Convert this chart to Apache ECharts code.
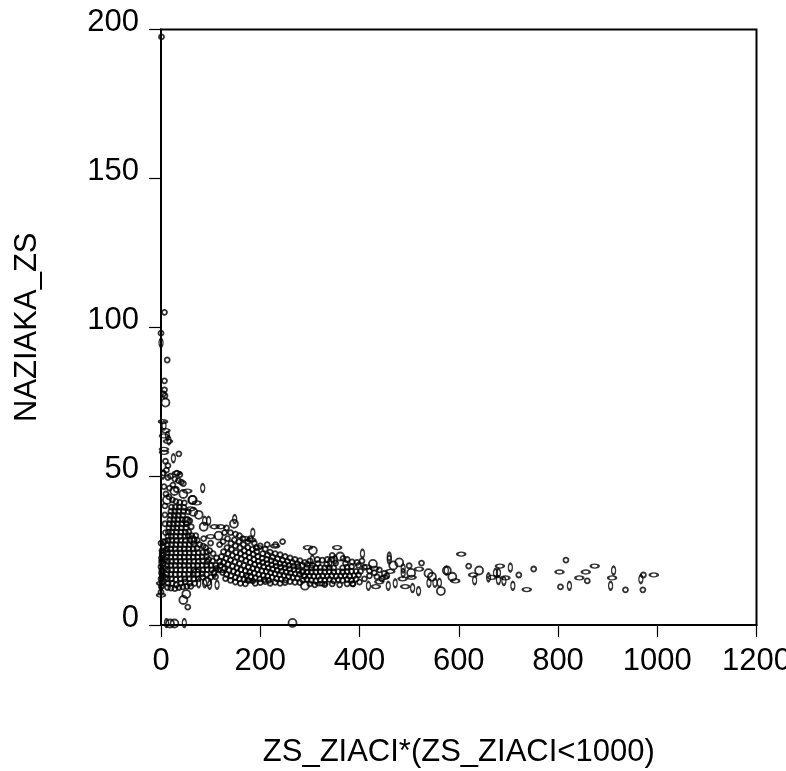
<!DOCTYPE html>
<html>
<head>
<meta charset="utf-8">
<style>html,body{margin:0;padding:0;background:#fff}</style>
<script src="https://cdn.jsdelivr.net/npm/echarts@6/dist/echarts.min.js"></script>
</head>
<body>
<div id="first" style="width:786px;height:771px;"></div>
<script>
var xTicks = [0, 200, 400, 600, 800, 1000, 1200];
var yTicks = [0, 50, 100, 150, 200];

// small round marks: [ZS_ZIACI, NAZIAKA_ZS]
var dotPoints = [
[1,197.5],[7,105],[0,98],[12.5,89],[7,82],[7,79],[5,77.6],[8,77],[36,57.5],[9,55],[14,53.5],[11,52],[5,51],[19,50],[32,51],[38,50.5],[14,49.5],[28,49],[35,48.5],[41,48],[45,47.5],[24,47],[6,46.5],[17,46],[31,45.5],[54,6],
[132,32.6],[86,29],[245,28],[231,27],[214,27],[386,13.8],[387,13.8],[500,19.9],[525,20.8],[620,19.8],[721,16.8],[751,18.8],[816,21.8],[859,14.8],[805,12.8],[936,11.8],[971,11.8],[972,16.8],
[0,11],[1,13],[2,14.5],[0,15.5],[3,16.5],[1,17.5],[2,18.5],[0,19.5],[4,20.5],[2,21.5],[1,22.5],[3,23.5],[2,25],[5,26],[0,27.5],[4,28],
[14,14],[22,14],[31,13.5],[40,14],[49,14.5],[58,14],[68,14],[13,15.5],[21,15.5],[30,15.3],[39,15.5],[48,15.5],[57,15.6],[66,15.5],[75,15.5],[84,16],
[12,17],[20,17],[29,17],[38,17],[47,17],[56,17],[65,17],[74,17],[83,17.2],[92,17],[13,18.5],[21,18.5],[30,18.5],[39,18.5],[48,18.5],[57,18.5],[66,18.5],[75,18.5],[84,18.5],[93,18.6],[102,18.5],
[12,20],[20,20],[29,20],[38,20],[47,20],[56,20],[65,20],[74,20],[83,20],[92,20],[101,20],[13,21.4],[21,21.4],[30,21.4],[39,21.4],[48,21.4],[57,21.4],[66,21.4],[75,21.4],[84,21.5],[93,21.3],
[12,22.8],[20,22.8],[29,22.8],[38,22.8],[47,22.8],[56,22.8],[65,22.8],[74,22.8],[83,22.9],[92,23],[13,24.2],[21,24.2],[30,24.2],[39,24.2],[48,24.2],[57,24.2],[66,24.2],[75,24.3],[84,24.4],
[12,25.6],[20,25.6],[29,25.6],[38,25.6],[47,25.6],[56,25.6],[65,25.6],[73,25.7],[13,27],[21,27],[30,27],[39,27],[48,27],[57,27],[66,27.2],[14,28.4],[22,28.4],[31,28.4],[40,28.4],[49,28.4],[58,28.5],[66,28.6],
[14,29.8],[21,29.8],[30,29.8],[39,29.8],[48,29.8],[55,30],[15,31.2],[22,31.2],[31,31.2],[40,31.2],[49,31.2],[56,31.3],[16,32.6],[24,32.6],[32,32.6],[41,32.6],[50,32.6],[17,34],[25,34],[33,34],[42,34],[51,34],
[18,35.4],[26,35.4],[34,35.4],[43,35.4],[52,35.3],[19,36.8],[27,36.8],[35,36.8],[44,36.8],[20,38.2],[28,38.2],[36,38.2],[45,38.2],[21,39.6],[29,39.6],[37,39.6],[46,39.5],
[116,18.5],[124,17.6],[132,17],[141,16.5],[150,16],[158,15.5],[167,15.3],[176,15],[185,14.8],[120,20],[128,19],[137,18.4],[146,18],[154,17.4],[163,17],[172,16.6],[181,16.2],[190,15.8],[199,15.5],[208,15.2],[217,15],
[118,21.4],[126,21],[135,20.4],[144,19.8],[153,19.2],[161,18.6],[170,18.2],[179,17.8],[188,17.4],[197,17],[206,16.6],[215,16.4],[224,16],[233,15.6],[242,15.4],[251,15.1],[122,23],[131,22.4],[140,21.8],[149,21.2],[158,20.6],[167,20],[176,19.4],[185,19],[194,18.6],[203,18.2],[212,18],[221,17.6],[230,17.2],[239,16.9],[248,16.6],[257,16.3],[266,16],[275,15.8],
[126,24.6],[135,24],[144,23.4],[153,22.8],[162,22.2],[171,21.6],[180,21],[189,20.4],[198,20],[207,19.6],[216,19.2],[225,18.8],[234,18.4],[243,18],[252,17.8],[261,17.4],[270,17.2],[279,17],[288,16.6],
[133,26],[142,25.4],[151,24.4],[160,24],[169,23.2],[178,22.6],[187,22],[196,21.4],[205,21],[214,20.6],[223,20.2],[232,19.8],[241,19.4],[250,19.2],[259,18.8],[268,18.6],[277,18.4],[286,18],[295,17.8],
[141,27.4],[150,26.6],[159,26],[168,25],[177,24.4],[186,23.8],[195,23],[204,22.4],[213,22],[222,21.6],[231,21],[240,20.6],[249,20.4],[258,20],[267,19.8],[276,19.6],[148,28.6],[157,28],[166,27],[175,26],[184,25.4],[193,24.6],
[286,15],[294,15.3],[303,15],[312,14.8],[321,15.2],[330,15],[339,15.3],[348,14.8],[357,15.2],[366,15],[375,15.3],[384,15],[393,15.4],[290,16.4],[299,16.5],[308,16.4],[317,16.3],[326,16.5],[335,16.4],[344,16.6],[353,16.4],[362,16.5],[371,16.6],[380,16.4],[389,16.6],[398,16.8],
[284,17.8],[303,17.8],[312,17.8],[321,17.9],[330,17.8],[339,17.9],[348,17.8],[357,17.9],[366,17.8],[375,17.9],[384,18],[393,18],[402,18],[294,19.2],[303,19.2],[312,19.2],[321,19.3],[330,19.2],[339,19.3],[348,19.2],[366,19.2],[375,19.4],[384,19.6],[398,20],[410,19.4],[316,20.6],[334,20.4],[352,20.8],[372,20.7],[367,22.4],[345,22],
[96,22],[104,21.5],[110,20],[112,22.5],[105,24],[98,25],[112,19],[106,17.5],[110,16.2],[100,16],[92,24.5],[90,26],[100,27.5],
[125,28],[134,29],[118,27],[128,31],[140,31],[150,30.5],[158,30],[165,29],[175,28],[188,27.5],[200,26.6],[210,25.5],[220,24.5],[230,24],[240,23.6],[250,23],[260,22.5],[270,22],[280,21.6],[290,21],[300,21.5],[180,29],[192,26],[205,24],[215,23.5],[225,22.8],[235,22.2],[245,21.8],[255,21.4],[265,21],[275,20.6],[285,20],[295,20.4],[305,20],[315,22],[325,21.8],[335,22],[345,23.4],[375,22],[385,21.2],[395,21],[405,21.5],
[130,15.6],[140,15],[150,14.4],[160,14],[170,13.8],[190,14],[200,14.2],[210,14.6],[220,14],[230,14.3],[240,14],[250,14.2],[260,14.6],[270,14.3],[280,14.2],[300,13.8],[310,13.5],[330,13.6],[345,13.8],[360,13.5],[375,13.8],[400,14.4],[410,15.5],[420,16.5],[430,17.5],[440,18.5],[450,17.3],[420,18.2],[435,16.2],[445,15.5],[455,16.5],
[13,12.6],[20,12.4],[28,12.2],[36,12.6],[44,12.8],[52,13],[60,13],
[10,44],[16,43],[23,42],[30,41.5],[38,41.2],[47,41],[55,38],[58,35],[61,33],[62,30],[70,30],[73,28.5],[78,27],[85,26.5],[8,40],[8,37],[8,34],[9,31],[8,28],[9,25],[8,22],[8,19],[9,16]
];

// marks stretched sideways
var widePoints = [
[4,68.3],[9,65.3],[6,63.5],[14,61.7],[6,59],[6,58],[32,51],[0,10],[0,14],[72,41],[53,45],[60,39],[100,29.7],[120,33],[108,33],[170,29],[182,28.5],[196,26],[230,26.5],[296,26],[355,26],[177,14.8],[320,13.8],[327,13.8],
[605,23.8],[492,12.9],[433,12.9],[683,19.8],[803,17.8],[874,19.8],[856,17.8],[993,16.8],[909,15.8],[843,15.8],[737,11.9],[694,15.8],[667,16],[629,16.8],[593,14.8],[520,18.8],[450,16],[505,16],[487,15.5],[440,14.5],[415,19.5],[430,19],[462,18]
];

// marks stretched upwards
var tallPoints = [
[0,94.8],[6,67],[13,63.5],[16,62],[25,56],[4,50.5],[84,46],[88,35],[96,35],[148.5,35.6],[185,31],[305,22],[340,21],[351,22],[108,17.5],[88,14],[76,14],[98,13.5],[113,13.5],[11,0.7],[47,0.7],
[406,24],[460,23],[460,22],[488,19],[488,17.5],[575,18.3],[704,19.3],[912,18.3],[967,15.4],[906,13.2],[823,13.2],[709,13.2],[691,14.8],[680,15.1],[680,17.5],[674,17.5],[660,16],[632,15],[561,14.2],[552,14.2],[540,14.2],[519,11.4],[507,12.4],[472,14],[458,13.2],[418,13.2],[1,24],[0,21],[2,18],[1,16],[0,13]
];

// the larger open rings
var ringPoints = [
[9,74.7],[27,45],[12,42],[45,44],[63,42],[64,42],[65,38],[76,37],[52,35],[86,33],[147,34],[116,30],[64,28.5],[306,25],[361,23],[290,13.2],[93,14.5],[71,17.5],[45,8.4],[51,10.4],[27,0.5],[18,0.5],[265,0.7],
[480,21],[427,20.5],[468,20],[576,18.3],[641,18.3],[504,17.5],[587,16.2],[546,16.2],[539,17.4],[564,11.4],[122,19],[178,16]
];

function markSeries(points, size) {
    return {
        type: 'scatter',
        data: points,
        symbol: 'circle',
        symbolSize: size,
        clip: false,
        silent: true,
        itemStyle: { color: 'rgba(255,255,255,0)', borderColor: '#000', borderWidth: 1.8 }
    };
}

var firstChart = echarts.init(document.getElementById('first'));
firstChart.setOption({
    animation: false,
    backgroundColor: '#fff',
    textStyle: { fontFamily: 'Liberation Sans' },
    grid: { left: 161, right: 29.5, top: 29.5, bottom: 146, outerBoundsMode: 'none', show: true, borderColor: '#000', borderWidth: 2, backgroundColor: 'transparent' },
    xAxis: {
        type: 'value', min: 0, max: 1200, interval: 200,
        name: 'ZS_ZIACI*(ZS_ZIACI<1000)', nameLocation: 'middle', nameGap: 112,
        nameTextStyle: { color: '#000', fontSize: 31, fontFamily: 'Liberation Sans' },
        splitLine: { show: false },
        axisLine: { lineStyle: { color: '#000', width: 2 } },
        axisTick: { length: 12, lineStyle: { color: '#000', width: 1.2 } },
        axisLabel: { color: '#000', fontSize: 31, margin: 21, showMaxLabel: true, hideOverlap: false, fontFamily: 'Liberation Sans', formatter: function (v) { return xTicks.indexOf(v) >= 0 ? String(v) : ''; } }
    },
    yAxis: {
        type: 'value', min: 0, max: 200, interval: 50,
        name: 'NAZIAKA_ZS', nameLocation: 'middle', nameGap: 118,
        nameTextStyle: { color: '#000', fontSize: 31, fontFamily: 'Liberation Sans' },
        splitLine: { show: false },
        axisLine: { lineStyle: { color: '#000', width: 2 } },
        axisTick: { length: 12, lineStyle: { color: '#000', width: 1.2 } },
        axisLabel: { color: '#000', fontSize: 31, margin: 22, verticalAlign: 'bottom', lineHeight: 14, fontFamily: 'Liberation Sans', formatter: function (v) { return yTicks.indexOf(v) >= 0 ? String(v) : ''; } }
    },
    series: [
        markSeries(dotPoints, 5),
        markSeries(widePoints, [8, 4]),
        markSeries(tallPoints, [4, 8]),
        markSeries(ringPoints, 8)
    ]
});
</script>
</body>
</html>
